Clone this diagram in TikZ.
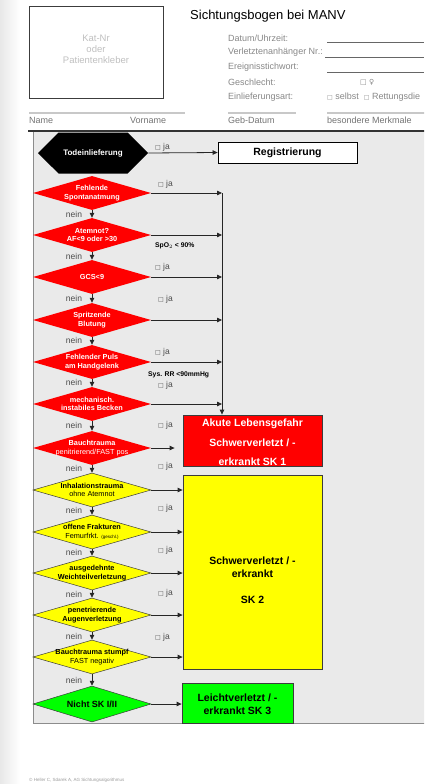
\documentclass[tikz,border=0pt]{standalone}
\usepackage{fontspec}
\setmainfont{Liberation Sans}
\newfontfamily\symfont{DejaVu Sans}
\usetikzlibrary{arrows.meta,positioning,shapes.geometric,shapes.symbols}
\definecolor{skred}{RGB}{255,0,0}
\definecolor{skyellow}{RGB}{255,255,0}
\definecolor{skgreen}{RGB}{0,255,0}
\definecolor{panelgray}{RGB}{234,234,234}
\definecolor{fieldgray}{RGB}{135,135,135}
\definecolor{rulegray}{RGB}{200,200,200}
\definecolor{edgegray}{RGB}{60,60,60}
\newcommand{\jabox}{{\symfont\fontsize{6pt}{6pt}\selectfont □}}

\tikzset{
  field/.style={anchor=west, inner sep=0pt, font=\fontsize{9pt}{10pt}\selectfont, text=fieldgray},
  redq/.style={diamond, fill=skred, inner sep=0pt, minimum width=118pt, minimum height=34pt},
  yelq/.style={diamond, fill=skyellow, draw=edgegray, line width=0.5pt, inner sep=0pt, minimum width=118pt, minimum height=34pt},
  wq/.style={font=\fontsize{7.3pt}{8.7pt}\selectfont\bfseries, text=white, align=center, inner sep=0pt},
  bq/.style={font=\fontsize{7.3pt}{8.7pt}\selectfont\bfseries, text=black, align=center, inner sep=0pt},
  nein/.style={font=\fontsize{8.5pt}{10pt}\selectfont, text=black!70, inner sep=0pt},
  ja/.style={anchor=west, font=\fontsize{8.5pt}{10pt}\selectfont, text=black!70, inner sep=0pt},
  note/.style={anchor=west, font=\fontsize{6.8pt}{8pt}\selectfont\bfseries, inner sep=0pt},
  arr/.style={-{Triangle[length=5pt, width=4.5pt]}, line width=0.8pt, black!85},
  skbox/.style={draw=edgegray, line width=0.8pt, inner sep=0pt},
  sktxt/.style={font=\fontsize{10.5pt}{13pt}\selectfont\bfseries, align=center, inner sep=0pt}
}

\begin{document}
\begin{tikzpicture}[x=1pt, y=-1pt]
  \useasboundingbox (0,0) rectangle (424,784);
  \clip (0,0) rectangle (424,784);
  % page edge
  \shade[left color=black!9, right color=white] (0,0) rectangle (20,784);

  % header
  \node[draw=edgegray, line width=0.8pt, minimum width=134pt, minimum height=92pt] (katbox) at (96,52) {};
  \node[font=\fontsize{9.5pt}{11pt}\selectfont, text=black!25, align=center] (kattxt) at (96,49) {Kat-Nr\\oder\\Patientenkleber};
  \node[anchor=west, inner sep=0pt, font=\fontsize{13pt}{15pt}\selectfont] (title) at (190,16) {Sichtungsbogen bei MANV};

  \node[field] (datum) at (228,38) {Datum/Uhrzeit:};
  \node[field] (anh) at (228,52) {Verletztenanhänger Nr.:};
  \node[field] (stich) at (228,67) {Ereignisstichwort:};
  \node[field] (geschl) at (228,82) {Geschlecht:};
  \node[field] (einl) at (228,97) {Einlieferungsart:};
  \node[field] (sex) at (360,82) {{\symfont\fontsize{7pt}{8pt}\selectfont □ ♀}};
  \node[field] (art) at (327,97) {\jabox\ selbst \ \jabox\ Rettungsdie};
  \draw[black!60, line width=0.5pt] (327,42) -- (424,42) (325,57) -- (424,57) (327,72) -- (424,72);

  \draw[rulegray, line width=1.2pt] (29,113) -- (185,113) (228,113) -- (296,113) (327,113) -- (430,113);
  \node[field, text=black!55] (name) at (29,120) {Name};
  \node[field, text=black!55] (vorname) at (130,120) {Vorname};
  \node[field, text=black!55] (geb) at (228,120) {Geb-Datum};
  \node[field, text=black!55] (merkmale) at (327,120) {besondere Merkmale};

  % panel
  \fill[panelgray] (33,131) rectangle (430,723);
  \draw[black!45, line width=0.8pt] (33,131) -- (33,723) -- (430,723);
  \draw[black!80, line width=1.5pt] (28,131) -- (430,131);

  % Todeinlieferung
  \node[signal, signal to=west and east, signal pointer angle=90, fill=black, minimum width=110pt, minimum height=41pt, inner sep=0pt, font=\fontsize{8pt}{10pt}\selectfont\bfseries, text=white] (tod) at (93,153) {Todeinlieferung};
  \node[draw=black, line width=0.8pt, fill=white, minimum width=139pt, minimum height=21pt, font=\fontsize{10.5pt}{12pt}\selectfont\bfseries] (reg) at (287.5,152.5) {Registrierung};
  \draw[arr] (tod.east) -- (reg.west);

  % SK 1 criteria
  \node[redq, label={[wq]center:{Fehlende\\Spontanatmung}}] (d1) at (92,193) {};
  \node[redq, label={[wq]center:{Atemnot?\\AF<9 oder >30}}] (d2) at (92,235) {};
  \node[redq, label={[wq]center:{GCS<9}}] (d3) at (92,277) {};
  \node[redq, label={[wq]center:{Spritzende\\Blutung}}] (d4) at (92,320) {};
  \node[redq, label={[wq]center:{Fehlender Puls\\am Handgelenk}}] (d5) at (92,362) {};
  \node[redq, label={[wq]center:{mechanisch.\\instabiles Becken}}] (d6) at (92,404) {};
  \node[redq, label={[wq]center:{Bauchtrauma\\{\mdseries penitrierend/FAST pos}}}] (d7) at (92,448) {};

  % SK 2 criteria
  \node[yelq, label={[bq]center:{Inhalationstrauma\\{\mdseries ohne Atemnot}}}] (d8) at (92,490) {};
  \node[yelq, label={[bq]center:{offene Frakturen\\{\mdseries Femurfrkt. {\fontsize{4.5pt}{5pt}\selectfont (geschl.)}}}}] (d9) at (92,532) {};
  \node[yelq, label={[bq]center:{ausgedehnte\\Weichteilverletzung}}] (d10) at (92,573) {};
  \node[yelq, label={[bq]center:{penetrierende\\Augenverletzung}}] (d11) at (92,615) {};
  \node[yelq, label={[bq]center:{Bauchtrauma stumpf\\{\mdseries FAST negativ}}}] (d12) at (92,657) {};
  \node[yelq, fill=skgreen, minimum height=36pt, label={[bq, font=\fontsize{9pt}{11pt}\selectfont\bfseries]center:{Nicht SK I/II}}] (d13) at (92,704) {};

  % result boxes
  \node[skbox, fill=skred, minimum width=139pt, minimum height=51pt, label={[sktxt, text=white, font=\fontsize{10.5pt}{19.5pt}\selectfont\bfseries, yshift=-2pt]center:{Akute Lebensgefahr\\Schwerverletzt / -\\erkrankt SK 1}}] (sk1) at (252.5,440.5) {};
  \node[skbox, fill=skyellow, minimum width=139pt, minimum height=194pt, label={[sktxt, yshift=-8.5pt]center:{Schwerverletzt / -\\erkrankt\\[13pt]SK 2}}] (sk2) at (252.5,572) {};
  \node[skbox, fill=skgreen, minimum width=111pt, minimum height=40pt, label={[sktxt, yshift=-1pt]center:{Leichtverletzt / -\\erkrankt SK 3}}] (sk3) at (237.5,703) {};

  % nein path
  \draw[arr] (d1.south) -- (d2.north);
  \draw[arr] (d2.south) -- (d3.north);
  \draw[arr] (d3.south) -- (d4.north);
  \draw[arr] (d4.south) -- (d5.north);
  \draw[arr] (d5.south) -- (d6.north);
  \draw[arr] (d6.south) -- (d7.north);
  \draw[arr] (d7.south) -- (d8.north);
  \draw[arr] (d8.south) -- (d9.north);
  \draw[arr] (d9.south) -- (d10.north);
  \draw[arr] (d10.south) -- (d11.north);
  \draw[arr] (d11.south) -- (d12.north);
  \draw[arr] (d12.south) -- (d13.north);
  \node[nein] (n1) at (74,214) {nein};
  \node[nein] (n2) at (74,256) {nein};
  \node[nein] (n3) at (74,298) {nein};
  \node[nein] (n4) at (74,340) {nein};
  \node[nein] (n5) at (74,382) {nein};
  \node[nein] (n6) at (74,425) {nein};
  \node[nein] (n7) at (74,468) {nein};
  \node[nein] (n8) at (74,510) {nein};
  \node[nein] (n9) at (74,552) {nein};
  \node[nein] (n10) at (74,594) {nein};
  \node[nein] (n11) at (74,636) {nein};
  \node[nein] (n12) at (74,680) {nein};

  % ja path
  \coordinate (bus) at (222,193);
  \draw[arr] (d1.east) -- (d1.east -| bus);
  \draw[arr] (d2.east) -- (d2.east -| bus);
  \draw[arr] (d3.east) -- (d3.east -| bus);
  \draw[arr] (d4.east) -- (d4.east -| bus);
  \draw[arr] (d5.east) -- (d5.east -| bus);
  \draw[arr] (d6.east) -- (d6.east -| bus);
  \draw[arr] (bus) -- (bus |- sk1.north);
  \draw[arr, shorten >=8pt] (d7.east) -- (d7.east -| sk1.west);
  \draw[arr] (d8.east) -- (d8.east -| sk2.west);
  \draw[arr] (d9.east) -- (d9.east -| sk2.west);
  \draw[arr] (d10.east) -- (d10.east -| sk2.west);
  \draw[arr] (d11.east) -- (d11.east -| sk2.west);
  \draw[arr] (d12.east) -- (d12.east -| sk2.west);
  \draw[arr] (d13.east) -- (d13.east -| sk3.west);

  \node[ja] (j0) at (155,147) {\jabox\ ja};
  \node[ja] (j1) at (158,184) {\jabox\ ja};
  \node[ja] (j3) at (155,267) {\jabox\ ja};
  \node[ja] (j4) at (158,299) {\jabox\ ja};
  \node[ja] (j5) at (155,352) {\jabox\ ja};
  \node[ja] (j6) at (158,385) {\jabox\ ja};
  \node[ja] (j7) at (158,425) {\jabox\ ja};
  \node[ja] (j8) at (158,466) {\jabox\ ja};
  \node[ja] (j9) at (158,508) {\jabox\ ja};
  \node[ja] (j10) at (158,550) {\jabox\ ja};
  \node[ja] (j11) at (158,593) {\jabox\ ja};
  \node[ja] (j12) at (155,637) {\jabox\ ja};
  \node[note] (spo) at (155,246) {SpO$_2$ < 90\%};
  \node[note] (rr) at (148,375) {Sys. RR <90mmHg};

  % footer
  \node[anchor=west, inner sep=0pt, font=\fontsize{4.5pt}{5pt}\selectfont, text=black!40] (copy) at (29,780) {© Heller C, Sdarek A, AG Sichtungsalgorithmus};
\end{tikzpicture}
\end{document}
